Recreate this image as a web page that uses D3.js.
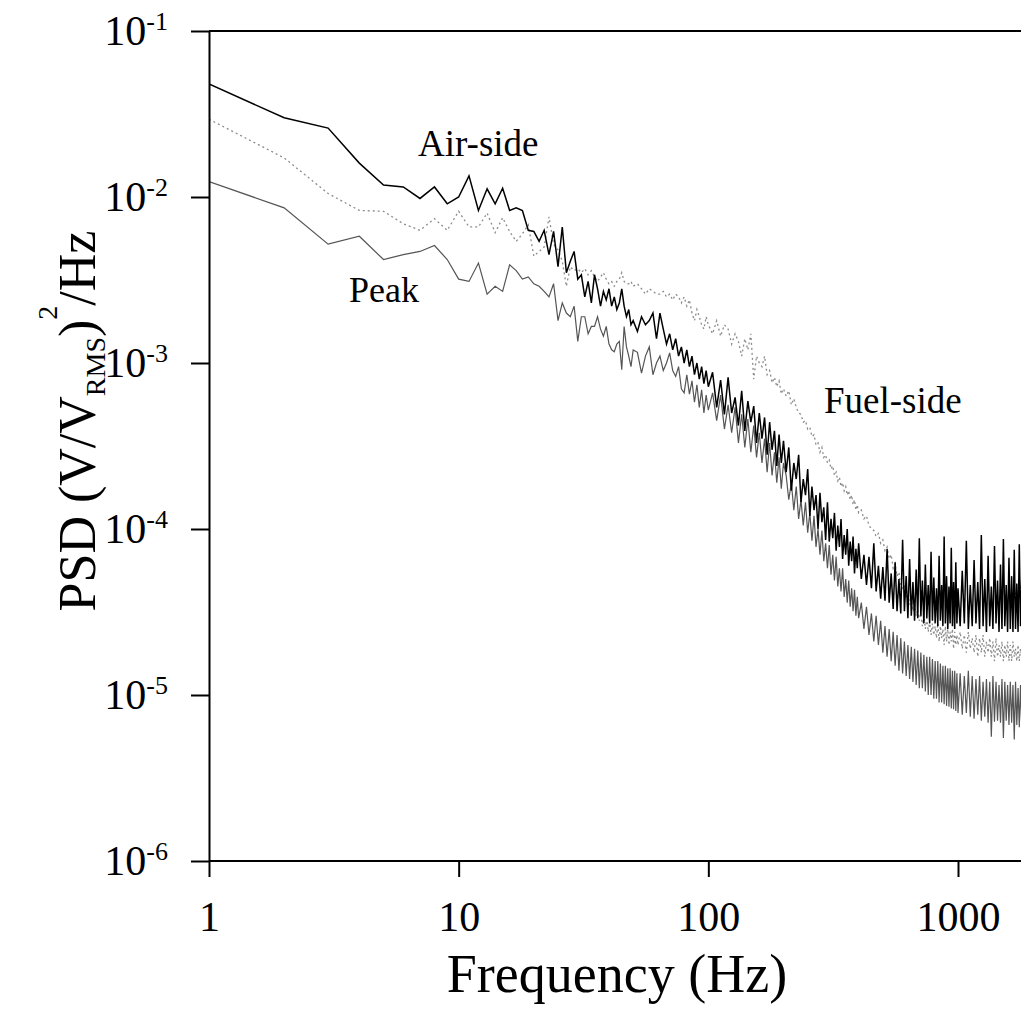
<!DOCTYPE html>
<html lang="en">
<head>
<meta charset="utf-8">
<title>PSD spectra</title>
<script src="https://cdn.jsdelivr.net/npm/d3@7"></script>
<style>
  body{margin:0;background:#fff;}
  svg text{font-family:"Liberation Serif","Times New Roman",serif;fill:#000;}
</style>
</head>
<body>
<div id="chart"></div>
<script>
// frequency bins (Hz), one value per bin in each series below
var freq = [1,2,3,4,5,6,7,8,9,10,11,12,13,14,15,16,17,18,19,20,
  21,22,23,24,25,26,27,28,29,30,31,32,33,34,35,36,37,38,39,40,
  41,42,43,44,45,46,47,48,49,50,
  52,54,56,58,60,62,64,66,68,70,72,74,76,78,80,82,84,86,88,90,92,94,96,98,100,
  104,108,112,116,120,124,128,132,136,140,144,148,152,156,160,164,168,172,176,180,184,188,192,196,200,
  205,210,215,220,225,230,235,240,245,250,255,260,265,270,275,280,285,290,295,300,
  305,310,315,320,325,330,335,340,345,350,355,360,365,370,375,380,385,390,395,400,
  410,420,430,440,450,460,470,480,490,500,510,520,530,540,550,560,570,580,590,600,
  610,620,630,640,650,660,670,680,690,700,710,720,730,740,750,760,770,780,790,800,
  810,820,830,840,850,860,870,880,890,900,910,920,930,940,950,960,970,980,990,1000,
  1020,1040,1060,1080,1100,1120,1140,1160,1180,1200,1220,1240,1260,1280,1300,1320,1340,1360,1380,1400,
  1420,1440,1460,1480,1500,1520,1540,1560,1580,1600,1620,1640,1660,1680,1700,1720,1740,1760,1780,1800];

var airSide = [0.048,0.030,0.026,0.016,0.0118,0.0115,0.0098,0.0115,0.0091,0.0100,
  0.0134,0.0083,0.0112,0.0091,0.0113,0.0083,0.0086,0.0083,0.0063,0.0062,
  0.0054,0.0063,0.0045,0.0062,0.0038,0.0066,0.0035,0.0041,0.0047,0.0032,
  0.0034,0.0025,0.0031,0.0023,0.0034,0.0028,0.0022,0.0027,0.0024,0.0028,
  0.0022,0.0025,0.0021,0.0023,0.0028,0.0022,0.0019,0.0021,0.0017,0.0018,
  0.00155,0.0019,0.0017,0.0018,0.0020,0.0014,0.0020,0.0016,0.0013,0.0015,
  0.0012,0.0014,0.0011,0.00125,0.0010,0.0012,0.00095,0.0011,0.00085,0.0010,
  0.0008,0.00095,0.00075,0.0009,0.00072,
  8.8e-4,5.4e-4,7.9e-4,4.9e-4,8.2e-4,5.0e-4,6.2e-4,4.2e-4,6.8e-4,3.9e-4,
  5.9e-4,4.4e-4,5.5e-4,3.3e-4,5.0e-4,3.5e-4,4.7e-4,2.8e-4,4.4e-4,3.0e-4,
  3.9e-4,2.4e-4,3.7e-4,2.5e-4,3.4e-4,
  2.2e-4,3.1e-4,1.7e-4,2.5e-4,2.0e-4,2.8e-4,1.45e-4,2.0e-4,1.6e-4,2.3e-4,
  1.2e-4,1.8e-4,1.3e-4,1.6e-4,1.0e-4,1.65e-4,1.1e-4,1.35e-4,8.6e-5,1.45e-4,
  8.4e-5,1.15e-4,8.8e-5,1.25e-4,7.4e-5,1.05e-4,7.8e-5,1.15e-4,6.6e-5,9.2e-5,
  7.0e-5,1.0e-4,6.0e-5,8.4e-5,6.4e-5,9.0e-5,5.4e-5,7.6e-5,5.8e-5,8.2e-5,
  5.0e-5,7.0e-5,4.6e-5,6.8e-5,4.4e-5,8.2e-5,4.2e-5,6.0e-5,3.8e-5,5.9e-5,
  3.7e-5,7.6e-5,3.6e-5,5.4e-5,3.3e-5,6.3e-5,3.2e-5,5.0e-5,3.1e-5,8.6e-5,
  3.2e-5,5.2e-5,2.9e-5,6.6e-5,3.0e-5,4.8e-5,2.8e-5,5.7e-5,2.9e-5,8.8e-5,
  3.0e-5,4.9e-5,2.7e-5,6.1e-5,2.9e-5,4.6e-5,2.7e-5,7.3e-5,2.8e-5,5.1e-5,
  2.7e-5,4.4e-5,2.6e-5,6.9e-5,2.8e-5,4.6e-5,2.6e-5,9.0e-5,2.7e-5,5.2e-5,
  2.5e-5,4.5e-5,2.7e-5,7.7e-5,2.6e-5,4.8e-5,2.5e-5,6.3e-5,2.7e-5,4.4e-5,
  2.6e-5,5.6e-5,2.7e-5,8.5e-5,2.5e-5,4.6e-5,2.6e-5,6.5e-5,2.7e-5,4.8e-5,
  2.5e-5,9.2e-5,2.6e-5,5.0e-5,2.4e-5,6.9e-5,2.6e-5,4.5e-5,2.5e-5,7.9e-5,
  2.7e-5,4.9e-5,2.4e-5,6.1e-5,2.5e-5,8.7e-5,2.6e-5,4.6e-5,2.4e-5,6.7e-5,
  2.5e-5,5.2e-5,2.4e-5,7.5e-5,2.5e-5,4.7e-5,2.4e-5,8.1e-5,2.6e-5,5.0e-5];

var fuelSide = [0.0294,0.0172,0.0105,0.0083,0.0082,0.0069,0.0063,0.0074,0.0063,0.0082,
  0.0066,0.0066,0.0080,0.0061,0.0075,0.0062,0.0054,0.0060,0.0068,0.0044,
  0.0047,0.0050,0.0076,0.0052,0.0048,0.0041,0.0029,0.0038,0.0036,0.0037,
  0.0035,0.0037,0.0034,0.0036,0.0033,0.0031,0.0033,0.0035,0.0032,0.0030,
  0.0031,0.0029,0.0031,0.0032,0.0035,0.0031,0.0030,0.0030,0.0031,0.0029,
  0.0030,0.0028,0.0026,0.0028,0.0027,0.0026,0.0026,0.0027,0.0025,0.0026,
  0.0024,0.0026,0.0025,0.0023,0.0025,0.0022,0.0024,0.0020,0.0018,0.0021,
  0.0019,0.0017,0.0016,0.0019,0.0017,
  0.0015,0.0018,0.00145,0.0017,0.0016,0.0013,0.0015,0.00135,0.0011,0.0014,
  0.0012,0.0015,0.0008,0.0011,0.0010,0.00095,0.0011,0.00085,0.0009,0.00076,
  0.00082,0.00072,0.00078,0.00065,0.0007,
  6.3e-4,6.8e-4,5.6e-4,6.1e-4,5.4e-4,5.0e-4,4.9e-4,4.4e-4,4.5e-4,4.0e-4,
  4.1e-4,3.6e-4,3.7e-4,3.2e-4,3.3e-4,2.9e-4,3.1e-4,2.7e-4,2.8e-4,2.5e-4,
  2.6e-4,2.3e-4,2.4e-4,2.1e-4,2.2e-4,1.95e-4,2.05e-4,1.8e-4,1.9e-4,1.7e-4,
  1.8e-4,1.6e-4,1.7e-4,1.5e-4,1.6e-4,1.4e-4,1.5e-4,1.3e-4,1.4e-4,1.25e-4,
  1.3e-4,1.15e-4,1.2e-4,1.05e-4,1.0e-4,9.8e-5,9.0e-5,9.4e-5,8.2e-5,8.6e-5,
  7.4e-5,7.8e-5,6.6e-5,7.0e-5,5.8e-5,6.2e-5,5.2e-5,5.5e-5,4.6e-5,4.4e-5,
  4.6e-5,3.8e-5,4.1e-5,3.5e-5,3.8e-5,3.2e-5,3.5e-5,3.0e-5,3.3e-5,2.8e-5,
  3.1e-5,2.6e-5,3.0e-5,2.5e-5,2.9e-5,2.4e-5,2.8e-5,2.3e-5,2.7e-5,2.3e-5,
  2.6e-5,2.2e-5,2.7e-5,2.1e-5,2.6e-5,2.2e-5,2.5e-5,2.0e-5,2.6e-5,2.1e-5,
  2.5e-5,2.0e-5,2.4e-5,2.1e-5,2.5e-5,1.9e-5,2.4e-5,2.0e-5,2.3e-5,2.0e-5,
  2.4e-5,1.9e-5,2.3e-5,1.8e-5,2.4e-5,1.9e-5,2.2e-5,1.8e-5,2.3e-5,1.7e-5,
  2.2e-5,1.8e-5,2.3e-5,1.7e-5,2.1e-5,1.8e-5,2.2e-5,1.7e-5,2.1e-5,1.6e-5,
  2.2e-5,1.7e-5,2.0e-5,1.7e-5,2.1e-5,1.6e-5,2.0e-5,1.7e-5,2.1e-5,1.6e-5,
  2.0e-5,1.6e-5,2.1e-5,1.7e-5,1.9e-5,1.6e-5,2.0e-5,1.6e-5,1.9e-5,1.7e-5];

var peak = [0.0124,0.0086,0.0052,0.0058,0.0042,0.0045,0.0047,0.0051,0.0042,0.0032,
  0.0031,0.0040,0.0026,0.0029,0.0027,0.0039,0.0036,0.0032,0.0033,0.0030,
  0.0029,0.0027,0.0025,0.0030,0.0018,0.0023,0.0020,0.0019,0.0022,0.00135,
  0.0019,0.0019,0.0015,0.00166,0.00166,0.0019,0.0016,0.00145,0.00166,0.0013,
  0.0012,0.00117,0.0013,0.00135,0.00091,0.00166,0.00125,0.0011,0.00095,0.0012,
  0.00116,0.00087,0.0011,0.00125,0.00085,0.0010,0.0011,0.0009,0.0010,0.00115,
  0.0009,0.00083,0.00095,0.0007,0.00066,0.00085,0.00065,0.00078,0.00058,0.00074,
  0.00054,0.00069,0.0005,0.00064,0.00052,
  6.6e-4,4.5e-4,6.4e-4,4.0e-4,5.6e-4,3.8e-4,5.4e-4,3.3e-4,4.9e-4,3.1e-4,
  4.6e-4,2.9e-4,4.2e-4,2.7e-4,3.8e-4,2.5e-4,3.5e-4,2.2e-4,3.3e-4,2.1e-4,
  2.9e-4,1.9e-4,2.7e-4,1.75e-4,2.5e-4,
  2.1e-4,1.5e-4,1.9e-4,1.3e-4,1.8e-4,1.15e-4,1.5e-4,1.05e-4,1.45e-4,9.5e-5,
  1.25e-4,8.5e-5,1.2e-4,7.8e-5,1.0e-4,7.0e-5,9.8e-5,6.4e-5,8.2e-5,5.8e-5,
  8.0e-5,5.3e-5,7.0e-5,4.9e-5,6.8e-5,4.5e-5,5.8e-5,4.2e-5,5.8e-5,3.9e-5,
  5.0e-5,3.6e-5,4.9e-5,3.4e-5,4.4e-5,3.2e-5,4.3e-5,3.0e-5,3.9e-5,2.9e-5,
  3.6e-5,2.5e-5,3.4e-5,2.3e-5,3.1e-5,2.1e-5,3.0e-5,2.0e-5,2.8e-5,1.8e-5,
  2.6e-5,1.7e-5,2.5e-5,1.6e-5,2.4e-5,1.5e-5,2.3e-5,1.4e-5,2.2e-5,1.35e-5,
  2.1e-5,1.3e-5,2.0e-5,1.25e-5,1.95e-5,1.2e-5,1.9e-5,1.15e-5,1.85e-5,1.1e-5,
  1.8e-5,1.1e-5,1.75e-5,1.05e-5,1.7e-5,1.0e-5,1.7e-5,1.0e-5,1.65e-5,9.5e-6,
  1.6e-5,9.5e-6,1.6e-5,9.0e-6,1.55e-5,9.0e-6,1.5e-5,8.8e-6,1.5e-5,8.6e-6,
  1.45e-5,8.5e-6,1.45e-5,8.3e-6,1.4e-5,8.2e-6,1.4e-5,8.0e-6,1.35e-5,7.8e-6,
  1.35e-5,7.6e-6,1.3e-5,7.8e-6,1.4e-5,7.4e-6,1.3e-5,7.2e-6,1.25e-5,7.6e-6,
  1.3e-5,7.0e-6,1.2e-5,7.4e-6,1.25e-5,6.8e-6,1.2e-5,5.6e-6,1.3e-5,6.9e-6,
  1.2e-5,7.0e-6,1.15e-5,6.8e-6,1.25e-5,5.5e-6,1.2e-5,7.0e-6,1.15e-5,6.6e-6,
  1.2e-5,6.8e-6,1.15e-5,5.4e-6,1.2e-5,6.6e-6,1.1e-5,6.4e-6,1.15e-5,6.5e-6];

var xTicks = [1, 10, 100, 1000];
var yTicks = [1e-1, 1e-2, 1e-3, 1e-4, 1e-5, 1e-6];

var w = 1021, h = 1019;

var x = d3.scaleLog().domain([1, 1000]).range([209, 958]);
var y = d3.scaleLog().domain([1e-6, 1e-1]).range([861, 31]);

var svg = d3.select("#chart").append("svg")
  .attr("width", w).attr("height", h);

svg.append("defs").append("clipPath").attr("id", "plot")
  .append("rect").attr("x", x(1)).attr("y", y(1e-1))
  .attr("width", w - x(1)).attr("height", y(1e-6) - y(1e-1));

function series(vals){
  return freq.map(function(f, i){ return {f: f, v: vals[i]}; });
}

var line = d3.line()
  .x(function(d){ return x(d.f); })
  .y(function(d){ return y(d.v); });

var lines = svg.append("g").attr("clip-path", "url(#plot)");

lines.append("path").datum(series(fuelSide))
  .attr("d", line).attr("fill", "none")
  .attr("stroke", "#8c8c8c").attr("stroke-width", 1.3)
  .attr("stroke-dasharray", "2,3");

lines.append("path").datum(series(peak))
  .attr("d", line).attr("fill", "none")
  .attr("stroke", "#555").attr("stroke-width", 1.2);

lines.append("path").datum(series(airSide))
  .attr("d", line).attr("fill", "none")
  .attr("stroke", "#000").attr("stroke-width", 1.5);

// frame lines (top and bottom run off the right edge)
svg.append("line").attr("x1", x(1)).attr("x2", w)
  .attr("y1", y(1e-1)).attr("y2", y(1e-1))
  .attr("stroke", "#000").attr("stroke-width", 2);
svg.append("line").attr("x1", x(1)).attr("x2", w)
  .attr("y1", y(1e-6)).attr("y2", y(1e-6))
  .attr("stroke", "#000").attr("stroke-width", 2);

// y axis
var yAxis = svg.append("g")
  .attr("transform", "translate(" + x(1) + ",0)")
  .call(d3.axisLeft(y).tickValues(yTicks).tickSize(18).tickSizeOuter(0).tickPadding(23)
    .tickFormat(function(){ return "10"; }));
yAxis.select(".domain").attr("stroke-width", 2);
yAxis.selectAll(".tick line").attr("stroke-width", 2);
yAxis.selectAll(".tick text")
  .attr("font-size", 42)
  .each(function(d){
    d3.select(this).append("tspan")
      .attr("font-size", 26).attr("dy", -15)
      .text("-" + Math.round(-Math.log10(d)));
  });

// x axis
var xAxis = svg.append("g")
  .attr("transform", "translate(0," + y(1e-6) + ")")
  .call(d3.axisBottom(x).tickValues(xTicks).tickSize(16).tickSizeOuter(0).tickPadding(24)
    .tickFormat(d3.format("d")));
xAxis.select(".domain").remove();
xAxis.selectAll(".tick line").attr("stroke-width", 2);
xAxis.selectAll(".tick text").attr("font-size", 42);

// axis titles
svg.append("text")
  .attr("x", 617).attr("y", 992)
  .attr("text-anchor", "middle").attr("font-size", 54)
  .text("Frequency (Hz)");

var yt = svg.append("text")
  .attr("transform", "translate(95,421) rotate(-90)")
  .attr("text-anchor", "middle").attr("font-size", 52);
yt.append("tspan").text("PSD (V/V");
yt.append("tspan").attr("font-size", 28).attr("dy", 10).text("RMS");
yt.append("tspan").attr("dy", -10).text(")");
yt.append("tspan").attr("font-size", 28).attr("dy", -38).text("2");
yt.append("tspan").attr("dy", 38).text("/Hz");

// series labels
svg.append("text").attr("x", 418).attr("y", 156).attr("font-size", 37).text("Air-side");
svg.append("text").attr("x", 349).attr("y", 302).attr("font-size", 36).text("Peak");
svg.append("text").attr("x", 824).attr("y", 413).attr("font-size", 37).text("Fuel-side");
</script>
</body>
</html>
